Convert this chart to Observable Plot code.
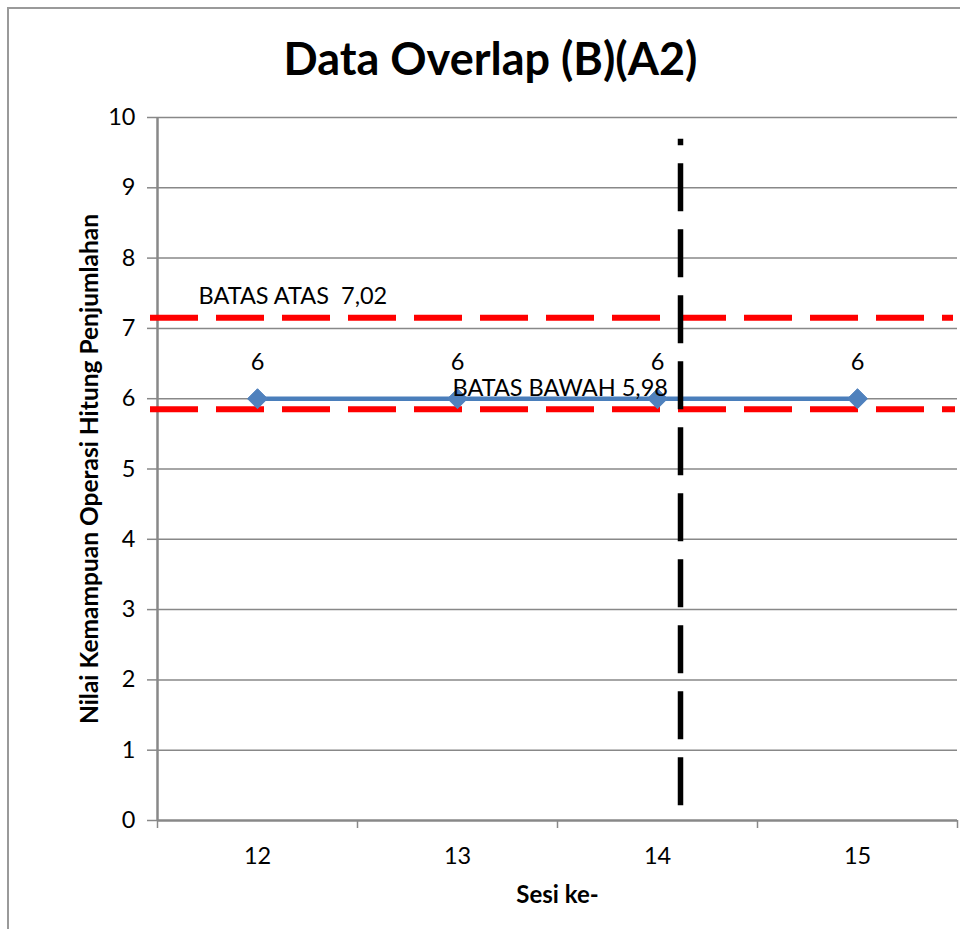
<!DOCTYPE html>
<html>
<head>
<meta charset="utf-8">
<script src="https://cdn.jsdelivr.net/npm/d3@7"></script>
<script src="https://cdn.jsdelivr.net/npm/@observablehq/plot@0.6"></script>
<style>
  html, body { margin: 0; padding: 0; background: #fff; }
  #wrap { position: relative; width: 960px; height: 929px; overflow: hidden; }
  #frame { position: absolute; left: 7px; top: 7px; width: 1000px; height: 1000px; border: 2px solid #9a9a9a; box-sizing: border-box; }
  #chart { position: absolute; left: 0; top: 0; }
</style>
</head>
<body>
<div id="wrap"><div id="frame"></div><div id="chart"></div></div>
<script>
const sessions = [12, 13, 14, 15];
const values = [6, 6, 6, 6];
const yTicks = [0, 1, 2, 3, 4, 5, 6, 7, 8, 9, 10];
const categoryBounds = [11.5, 12.5, 13.5, 14.5, 15.5];
const upperLimit = 7.15;   // drawn position of "BATAS ATAS"
const lowerLimit = 5.85;   // drawn position of "BATAS BAWAH"
const upperLabel = "BATAS ATAS  7,02";
const lowerLabel = "BATAS BAWAH 5,98";
const phaseX = 14.115;     // phase-change line position
const phaseY = [0.21, 9.69];
const titleText = "Data Overlap (B)(A2)";
const yTitle = "Nilai Kemampuan Operasi Hitung Penjumlahan";
const xTitle = "Sesi ke-";

const data = sessions.map((s, i) => ({session: s, value: values[i]}));

const font = "Lato, 'Open Sans', sans-serif";
const gray = "#888888";

const chart = Plot.plot({
  width: 960,
  height: 929,
  marginLeft: 157,
  marginRight: 3,
  marginTop: 117,
  marginBottom: 109,
  style: {fontFamily: font, background: "transparent", overflow: "visible"},
  x: {domain: [11.5, 15.5], label: null},
  y: {domain: [0, 10], label: null},
  marks: [
    Plot.gridY(yTicks.slice(1), {stroke: gray, strokeOpacity: 1, strokeWidth: 1.5}),
    Plot.axisY(yTicks, {tickSize: 10, tickPadding: 12, tickFormat: "d", fontSize: 23.5, stroke: gray, strokeWidth: 1.5, fill: "#000", label: null}),
    Plot.axisX(categoryBounds, {tickSize: 8, tickFormat: () => "", stroke: gray, strokeWidth: 1.5, label: null}),
    Plot.axisX(sessions, {tickSize: 0, tickPadding: 27, tickFormat: "d", fontSize: 23.5, fill: "#000", label: null}),
    Plot.ruleX([11.5], {stroke: gray, strokeWidth: 2.5}),
    Plot.ruleY([0], {stroke: gray, strokeWidth: 2.5}),
    Plot.ruleY([upperLimit], {x1: 11.465, x2: 15.48, stroke: "#ff0000", strokeWidth: 6, strokeDasharray: "48,18"}),
    Plot.ruleY([lowerLimit], {x1: 11.465, x2: 15.49, stroke: "#ff0000", strokeWidth: 6, strokeDasharray: "48,18"}),
    Plot.line(data, {x: "session", y: "value", stroke: "#4a7ebb", strokeWidth: 4.5}),
    Plot.dot(data, {x: "session", y: "value", symbol: "diamond2", r: 9, fill: "#4f81bd", stroke: "#4f81bd", strokeWidth: 1}),
    Plot.text(data, {x: "session", y: "value", text: d => String(d.value), dy: -36, fontSize: 23.5, fill: "#000"}),
    Plot.ruleX([phaseX], {y1: phaseY[0], y2: phaseY[1], stroke: "#000", strokeWidth: 5.5, strokeDasharray: "48,18"}),
    Plot.text([upperLabel], {x: 11.705, y: upperLimit, text: d => d, textAnchor: "start", dy: -21, fontSize: 23.5, fill: "#000"}),
    Plot.text([lowerLabel], {x: 12.975, y: lowerLimit, text: d => d, textAnchor: "start", dy: -21, fontSize: 23.5, fill: "#000"}),
    Plot.text([titleText], {frameAnchor: "top-left", dx: 333, dy: -57, lineAnchor: "middle", text: d => d, fontSize: 45, fontWeight: "bold", textAnchor: "middle", fill: "#000"}),
    Plot.text([yTitle], {frameAnchor: "left", dx: -67, rotate: -90, textAnchor: "middle", lineAnchor: "middle", text: d => d, fontSize: 24.5, fontWeight: "bold", fill: "#000"}),
    Plot.text([xTitle], {frameAnchor: "bottom", dy: 75, lineAnchor: "middle", textAnchor: "middle", text: d => d, fontSize: 24, fontWeight: "bold", fill: "#000"})
  ]
});
document.getElementById("chart").appendChild(chart);
</script>
</body>
</html>
